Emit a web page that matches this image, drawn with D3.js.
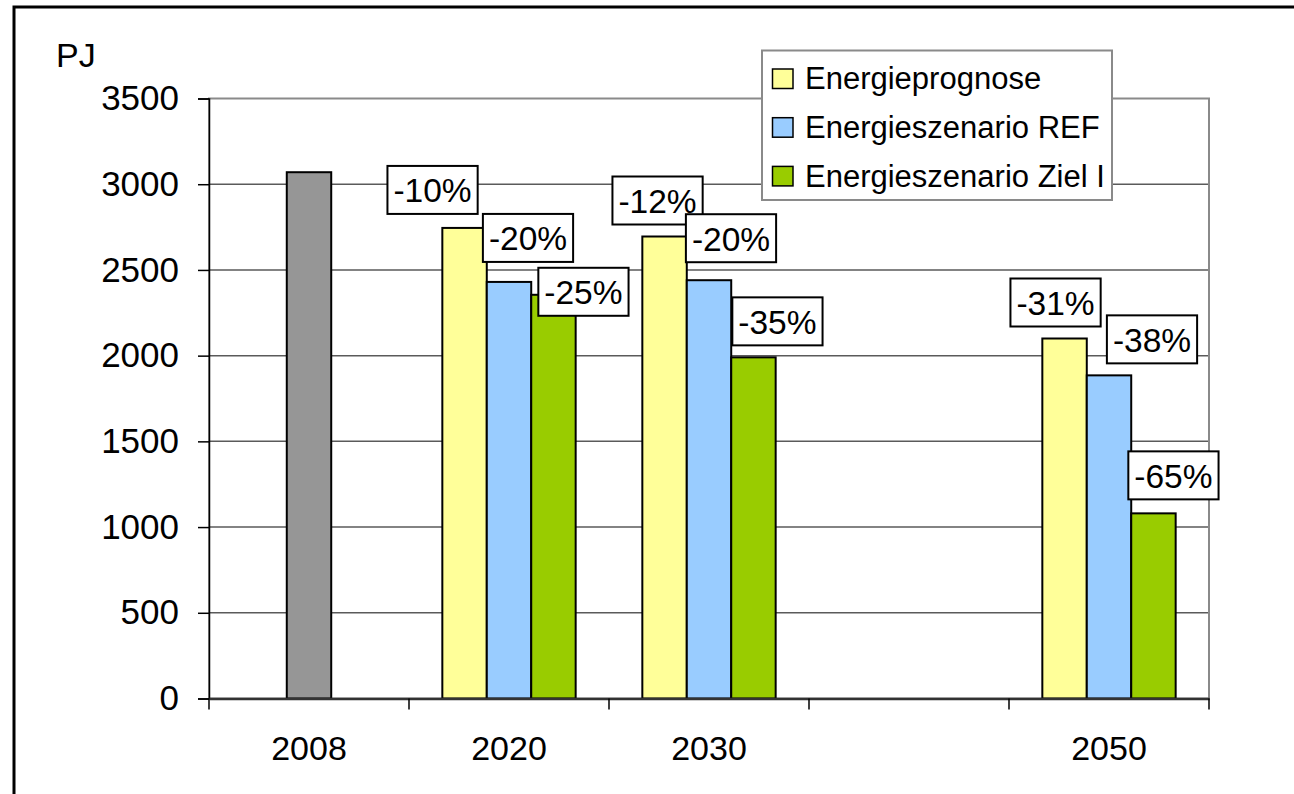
<!DOCTYPE html>
<html>
<head>
<meta charset="utf-8">
<script src="https://cdn.jsdelivr.net/npm/d3@7"></script>
<style>
  html, body { margin: 0; padding: 0; background: #fff; }
  svg { display: block; font-family: "Liberation Sans", Arial, sans-serif; }
</style>
</head>
<body>
<svg id="chart" width="1294" height="794"></svg>
<script>
// Primärenergieverbrauch in PJ: Basisjahr und drei Szenarien
const years = ["2008", "2020", "2030", "2040", "2050"];
const yearLabels = ["2008", "2020", "2030", "", "2050"];
const seriesNames = ["Energieprognose", "Energieszenario REF", "Energieszenario Ziel I"];
const baseValues = [3070, null, null, null, null];
const prognose = [null, 2745, 2695, null, 2100];
const szenarioRef = [null, 2430, 2440, null, 1885];
const szenarioZiel = [null, 2355, 1990, null, 1080];
const prognoseLabels = [null, "-10%", "-12%", null, "-31%"];
const refLabels = [null, "-20%", "-20%", null, "-38%"];
const zielLabels = [null, "-25%", "-35%", null, "-65%"];
const yTicks = [0, 500, 1000, 1500, 2000, 2500, 3000, 3500];
const yUnit = "PJ";

// Layout: box-center offsets of the percentage callouts relative to their bar tops
const labelNudge = [
  [null, [-32, -38], [-7, -36], null, [-9, -36]],
  [null, [19, -44], [22, -42], null, [43, -36]],
  [null, [30, -3], [24, -36], null, [20, -38]]
];

const seriesValues = [prognose, szenarioRef, szenarioZiel];
const seriesLabels = [prognoseLabels, refLabels, zielLabels];
const seriesColors = ["#FFFF99", "#99CCFF", "#99CC00"];
const baseColor = "#969696";

const svg = d3.select("#chart");
const plot = { left: 209, right: 1209, top: 98.5, bottom: 698.5 };

// outer chart frame (runs past the right and bottom edges)
svg.append("rect")
  .attr("x", 14).attr("y", 7).attr("width", 1400).attr("height", 900)
  .attr("fill", "#fff").attr("stroke", "#000").attr("stroke-width", 3);

const x = d3.scaleBand().domain(years).range([plot.left, plot.right]).paddingInner(0).paddingOuter(0);
const y = d3.scaleLinear().domain([0, 3500]).range([plot.bottom, plot.top]);

const bw = x.bandwidth();
const barW = bw / 4.5; // gap width 150 %
const xs = d3.scaleBand().domain(seriesNames).range([barW * 0.75, bw - barW * 0.75]);

// gridlines
svg.append("g").selectAll("line")
  .data(yTicks.filter(t => t > 0 && t < 3500))
  .join("line")
  .attr("x1", plot.left).attr("x2", plot.right)
  .attr("y1", d => y(d)).attr("y2", d => y(d))
  .attr("stroke", "#5a5a5a").attr("stroke-width", 1.5);

// plot area border
svg.append("rect")
  .attr("x", plot.left).attr("y", plot.top)
  .attr("width", plot.right - plot.left).attr("height", plot.bottom - plot.top)
  .attr("fill", "none").attr("stroke", "#8a8a8a").attr("stroke-width", 2);

// base year bar
svg.append("g").selectAll("rect")
  .data(years.map((yr, i) => ({ yr, v: baseValues[i] })).filter(d => d.v != null))
  .join("rect")
  .attr("x", d => x(d.yr) + bw / 2 - barW / 2)
  .attr("y", d => y(d.v))
  .attr("width", barW)
  .attr("height", d => y(0) - y(d.v))
  .attr("fill", baseColor).attr("stroke", "#000").attr("stroke-width", 2);

// scenario bars
const seriesData = seriesNames.map((name, si) => years.map((yr, i) => ({
  name, si, yr, i, v: seriesValues[si][i], label: seriesLabels[si][i]
})).filter(d => d.v != null));

svg.append("g").selectAll("g")
  .data(seriesData).join("g")
  .selectAll("rect")
  .data(d => d).join("rect")
  .attr("x", d => x(d.yr) + xs(d.name))
  .attr("y", d => y(d.v))
  .attr("width", xs.bandwidth())
  .attr("height", d => y(0) - y(d.v))
  .attr("fill", d => seriesColors[d.si])
  .attr("stroke", "#000").attr("stroke-width", 2);

// y axis
const yAxis = svg.append("g")
  .attr("transform", `translate(${plot.left},0)`)
  .call(d3.axisLeft(y).tickValues(yTicks).tickSize(11).tickPadding(19).tickFormat(d3.format("d")));
yAxis.select(".domain").attr("stroke", "#000").attr("stroke-width", 1.5);
yAxis.selectAll(".tick line").attr("stroke", "#000").attr("stroke-width", 1.5);
yAxis.selectAll(".tick text").attr("font-size", 35).attr("fill", "#000")
  .attr("font-family", "'Liberation Sans', Arial, sans-serif");
// left axis runs down through the category tick row
svg.append("line")
  .attr("x1", plot.left).attr("x2", plot.left)
  .attr("y1", plot.bottom).attr("y2", plot.bottom + 11)
  .attr("stroke", "#000").attr("stroke-width", 1.5);

// x axis: category labels
const xAxis = svg.append("g")
  .attr("transform", `translate(0,${plot.bottom})`)
  .call(d3.axisBottom(x).tickSize(0).tickPadding(37).tickFormat((d, i) => yearLabels[i]));
xAxis.select(".domain").attr("stroke", "#333").attr("stroke-width", 2.5);
xAxis.selectAll(".tick text").attr("font-size", 34).attr("fill", "#000")
  .attr("font-family", "'Liberation Sans', Arial, sans-serif");

// x axis: ticks between categories
svg.append("g").selectAll("line")
  .data(years.slice(1).map(yr => x(yr)).concat([x.range()[1]]))
  .join("line")
  .attr("x1", d => d).attr("x2", d => d)
  .attr("y1", plot.bottom).attr("y2", plot.bottom + 11)
  .attr("stroke", "#000").attr("stroke-width", 1.5);

// unit label
svg.append("text")
  .attr("x", 56).attr("y", 66.5)
  .attr("font-size", 34).attr("fill", "#000")
  .text(yUnit);

// percentage callouts
const callouts = svg.append("g");
seriesData.flat().filter(d => d.label).forEach(d => {
  const nudge = labelNudge[d.si][d.i];
  const cx = x(d.yr) + xs(d.name) + xs.bandwidth() / 2 + nudge[0];
  const cy = y(d.v) + nudge[1];
  const g = callouts.append("g");
  const rect = g.append("rect");
  const t = g.append("text")
    .attr("x", cx).attr("y", cy + 1)
    .attr("text-anchor", "middle").attr("dominant-baseline", "central")
    .attr("font-size", 33.5).attr("fill", "#000")
    .text(d.label);
  const w = t.node().getComputedTextLength() + 12;
  const h = 48;
  rect.attr("x", cx - w / 2).attr("y", cy - h / 2).attr("width", w).attr("height", h)
    .attr("fill", "#fff").attr("stroke", "#000").attr("stroke-width", 2);
});

// legend
const legend = svg.append("g");
legend.append("rect")
  .attr("x", 762).attr("y", 50.5).attr("width", 350).attr("height", 149.5)
  .attr("fill", "#fff").attr("stroke", "#8a8a8a").attr("stroke-width", 2);
const rows = legend.selectAll("g.row").data(seriesNames).join("g").attr("class", "row")
  .attr("transform", (d, i) => `translate(0,${i * 48.7})`);
rows.append("rect")
  .attr("x", 772.5).attr("y", 69).attr("width", 20.5).attr("height", 19.5)
  .attr("fill", (d, i) => seriesColors[i]).attr("stroke", "#000").attr("stroke-width", 1.5);
rows.append("text")
  .attr("x", 805).attr("y", 89.3)
  .attr("font-size", 31).attr("fill", "#000")
  .text(d => d);
</script>
</body>
</html>
